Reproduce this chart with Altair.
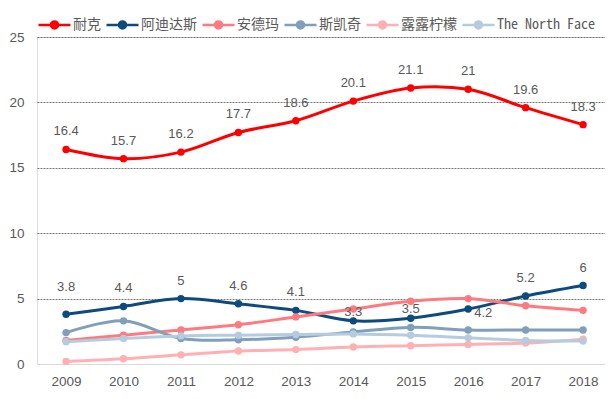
import altair as alt
import pandas as pd

years = ["2009", "2010", "2011", "2012", "2013", "2014", "2015", "2016", "2017", "2018"]
series_names = ["耐克", "阿迪达斯", "安德玛", "斯凯奇", "露露柠檬", "The North Face"]
nike = [16.4, 15.7, 16.2, 17.7, 18.6, 20.1, 21.1, 21.0, 19.6, 18.3]
adidas = [3.8, 4.4, 5.0, 4.6, 4.1, 3.3, 3.5, 4.2, 5.2, 6.0]
under_armour = [1.8, 2.2, 2.6, 3.0, 3.6, 4.2, 4.8, 5.0, 4.45, 4.1]
skechers = [2.4, 3.3, 1.95, 1.85, 2.05, 2.45, 2.8, 2.6, 2.6, 2.6]
lululemon = [0.2, 0.4, 0.7, 1.0, 1.1, 1.3, 1.4, 1.5, 1.6, 1.9]
north_face = [1.7, 1.95, 2.15, 2.2, 2.25, 2.3, 2.2, 2.0, 1.8, 1.75]
colors = ["#FF0000", "#0D4A7E", "#FF7A80", "#7F9FBA", "#FFB0B3", "#B4CCDD"]

values = [nike, adidas, under_armour, skechers, lululemon, north_face]
rows = []
for name, vals in zip(series_names, values):
    for y, v in zip(years, vals):
        rows.append({"series": name, "year": y, "value": v})
df = pd.DataFrame(rows)

color = alt.Color(
    "series:N",
    scale=alt.Scale(domain=series_names, range=colors),
    sort=series_names,
    legend=alt.Legend(
        title=None,
        orient="none",
        legendX=0,
        legendY=-30,
        direction="horizontal",
        columns=6,
        symbolType="M-1,0L1,0M-0.22,0A0.22,0.22,0,1,1,0.22,0A0.22,0.22,0,1,1,-0.22,0Z",
        symbolSize=1024,
        symbolStrokeWidth=2.5,
        labelFont="Noto Sans Mono CJK SC, Noto Sans CJK SC",
        labelFontSize=14,
        labelColor="#595959",
        labelOffset=1,
        labelLimit=200,
        columnPadding=0,
    ),
)

x = alt.X(
    "year:O",
    sort=years,
    scale=alt.Scale(type="point", padding=0.444, align=0.57),
    axis=alt.Axis(
        title=None,
        labelAngle=0,
        ticks=False,
        domainColor="#D9D9D9",
        domainWidth=1,
        grid=False,
        labelPadding=10,
        labelFont="Liberation Sans",
        labelFontSize=13.5,
        labelColor="#595959",
    ),
)
y = alt.Y(
    "value:Q",
    scale=alt.Scale(domain=[0, 25], nice=False),
    axis=alt.Axis(
        title=None,
        values=[0, 5, 10, 15, 20, 25],
        domain=False,
        ticks=False,
        labelPadding=13,
        labelFont="Liberation Sans",
        labelFontSize=13.5,
        labelColor="#595959",
        grid=True,
        gridDash=[2, 1],
        gridWidth=0.8,
        gridColor={"condition": {"test": "datum.value === 0", "value": "transparent"}, "value": "#555555"},
    ),
)

base = alt.Chart(df)
lines = base.mark_line(interpolate="catmull-rom", strokeWidth=3).encode(x=x, y=y, color=color)
points = base.mark_point(filled=True, size=55, opacity=1).encode(x=x, y=y, color=color)

labelled = base.transform_filter(
    alt.FieldOneOfPredicate(field="series", oneOf=["耐克", "阿迪达斯"])
).transform_calculate(
    grp="datum.series === '阿迪达斯' ? (datum.year === '2009' ? 'a' : (datum.year === '2014' || datum.year === '2015') ? 'b' : datum.year === '2016' ? 'c' : 'n') : 'n'"
)

text_style = dict(font="Liberation Sans", fontSize=13, color="#595959", baseline="middle")
text_enc = dict(x=x, y=y, text=alt.Text("value:Q", format="~g"))

labels_n = labelled.transform_filter("datum.grp === 'n'").mark_text(dy=-18, **text_style).encode(**text_enc)
labels_a = labelled.transform_filter("datum.grp === 'a'").mark_text(dy=-27, **text_style).encode(**text_enc)
labels_b = labelled.transform_filter("datum.grp === 'b'").mark_text(dy=-9, **text_style).encode(**text_enc)
labels_c = labelled.transform_filter("datum.grp === 'c'").mark_text(dy=4, dx=15, **text_style).encode(**text_enc)

chart = (
    alt.layer(lines, points, labels_n, labels_a, labels_b, labels_c)
    .properties(
        width=568,
        height=327,
        autosize=alt.AutoSizeParams(type="none"),
        padding={"left": 29, "top": 29, "right": 0, "bottom": 26},
    )
    .configure_view(stroke=None)
    .configure(background="white")
)

chart.save("out.html", embed_options={"renderer": "svg", "actions": False})
